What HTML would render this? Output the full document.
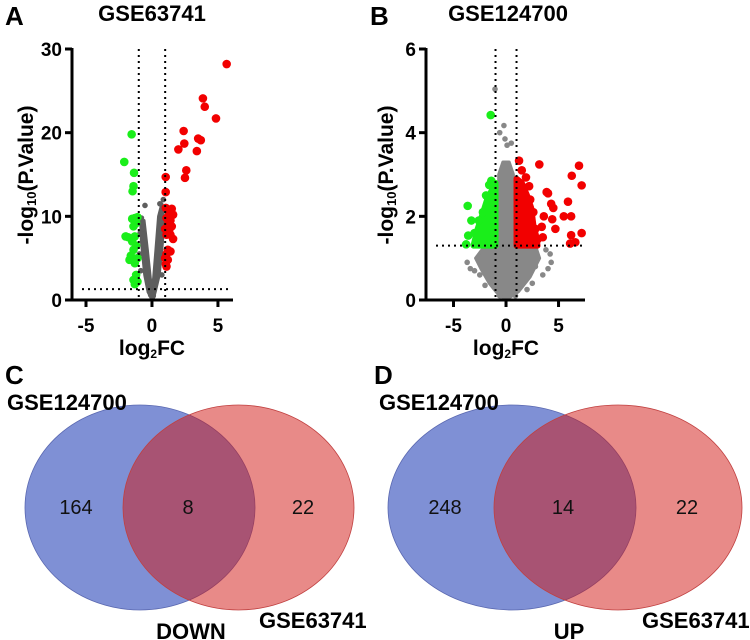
<!DOCTYPE html>
<html><head><meta charset="utf-8"><style>
html,body{margin:0;padding:0;background:#fff;}
svg{display:block;font-family:"Liberation Sans",Arial,sans-serif;}
</style></head><body>
<svg id="fig" width="750" height="640" viewBox="0 0 750 640" xmlns="http://www.w3.org/2000/svg">
<g id="pa"></g>
<g id="pb"></g>
<g id="vc"></g>
<g id="vd"></g>
</svg>
<script>
// ---- Panel A data (log2FC, -log10 p) ----
const aRedX=[5.66,3.86,4.0,4.85,2.4,3.5,3.7,2.45,2.0,3.4,2.6,2.5,1.04,1.04,1.05,1.2,1.5,1.3,1.6,1.1,1.4,1.2,1.5,1.0,1.3,1.6,1.1,1.4,1.2,1.4,1.1,1.0,1.2,1.05,1.1];
const aRedY=[28.2,24.1,23.1,21.7,20.2,19.3,19.1,18.7,18.0,17.8,15.5,14.6,14.7,12.9,11.0,10.8,10.9,10.3,10.2,9.8,9.5,9.0,8.8,8.5,8.3,7.3,7.8,7.8,6.0,5.8,5.5,5.0,4.8,4.3,4.0];
const aGreenX=[-1.54,-2.1,-1.36,-1.4,-1.47,-1.1,-1.3,-1.5,-1.2,-1.4,-2.0,-1.8,-1.3,-1.5,-1.2,-1.4,-1.6,-1.1,-1.7,-1.3,-1.2,-1.4,-1.3,-1.1];
const aGreenY=[19.8,16.5,15.2,13.6,13.0,9.9,9.8,9.7,9.2,8.8,7.6,7.5,7.6,7.0,6.5,6.0,5.3,5.0,4.8,4.4,3.0,2.4,1.9,2.2];
const aGreyHullX=[0,-0.3,-0.55,-0.8,-0.85,-0.6,-0.35,-0.12,0,0.12,0.3,0.5,0.75,0.85,0.8,0.55,0.25,0.08];
const aGreyHullY=[0,1,3,7,9.5,9.5,6,2.5,1.5,2.5,6,10,11.5,10.5,7,3,1,0];
const aGreyX=[-0.53,0.86,0.6,0.7,-0.8,-0.7,-0.9,-0.6,0.9,0.8,0.5,-0.4,-0.5,0.4,0.3,-0.3,-0.95,0.95,-0.85,0.75,0.65,-0.65,0.2,-0.2,0.1,-0.1,0.45,-0.45];
const aGreyY=[11.3,12.0,11.5,10.5,9.8,9.0,8.0,7.5,9.0,8.0,6.5,4.5,6.0,4.0,2.5,2.0,5.5,5.0,3.5,3.0,9.5,8.5,1.5,1.0,0.5,0.6,3.5,3.2];
const aXTicks=[-5,0,5];
const aYTicks=[0,10,20,30];

// ---- Panel B data ----
const bRedX=[6.95,3.17,1.24,6.26,7.2,1.5,1.9,2.2,3.87,4.0,4.3,4.5,5.9,5.5,6.2,3.6,4.4,4.7,6.2,7.2,6.1,6.6,3.4,3.5,2.3,2.6,2.8,3.0,2.0,1.7];
const bRedY=[3.21,3.24,3.33,2.97,2.74,3.1,2.93,2.72,2.58,2.55,2.3,2.2,2.35,2.0,2.0,2.0,1.93,1.7,1.55,1.6,1.35,1.38,1.75,1.5,2.4,2.1,1.7,1.45,2.3,2.6];
const bRedHullX=[1.0,1.0,1.5,2.0,2.4,2.6,2.9,3.0];
const bRedHullY=[1.3,2.9,2.8,2.5,2.2,1.8,1.5,1.3];
const bGreenX=[-1.46,-3.65,-3.8,-3.6,-3.3,-1.4,-1.6,-1.9,-2.6,-2.2,-3.0];
const bGreenY=[4.42,2.25,1.33,1.54,1.9,2.85,2.75,2.5,1.9,2.1,1.6];
const bGreenHullX=[-1.0,-1.0,-1.4,-1.8,-2.3,-2.7,-3.0,-3.1];
const bGreenHullY=[1.3,2.8,2.6,2.4,2.0,1.7,1.4,1.3];
const bGreyHullX=[0,-0.8,-1.6,-2.4,-2.9,-2.3,-1.0,-0.7,-0.7,-0.3,0.3,0.7,0.7,1.0,2.8,3.2,2.3,1.2];
const bGreyHullY=[0,0.15,0.4,0.75,1.0,1.2,1.3,1.3,3.0,3.3,3.3,3.0,1.3,1.3,1.3,1.0,0.55,0.2];
const bGreyX=[-1.05,-0.2,-0.6,0.1,-0.1,0.5,-3.7,-3.0,3.8,4.2,4.3,3.5,4.0,2.5,2.0,-2.0,3.0,-2.5,0.9,-0.6,-3.4,2.8];
const bGreyY=[5.04,4.17,4.0,3.7,3.85,3.75,0.9,0.7,1.2,1.1,0.9,0.6,0.75,0.4,0.25,0.35,1.0,0.6,0.1,0.1,0.75,0.8];
const bXTicks=[-5,0,5];
const bYTicks=[0,2,4,6];

// ---- Venn data ----
const vennLabels=["164","8","22","248","14","22"];

const NS="http://www.w3.org/2000/svg";
function mk(parent,tag,attrs,text){const e=document.createElementNS(NS,tag);for(const k in attrs)e.setAttribute(k,attrs[k]);if(text!==undefined)e.textContent=text;parent.appendChild(e);return e;}

function volcano(g,cfg){
  const sx=v=>cfg.x0+(v-cfg.xmin)/(cfg.xmax-cfg.xmin)*(cfg.x1-cfg.x0);
  const sy=v=>cfg.yb-(v-cfg.ymin)/(cfg.ymax-cfg.ymin)*(cfg.yb-cfg.yt);
  let pts=cfg.ghx.map((v,i)=>sx(v)+","+sy(cfg.ghy[i])).join(" ");
  let p=mk(g,"polygon",{points:pts,fill:cfg.grey,stroke:cfg.grey,"stroke-width":3,"stroke-linejoin":"round"});
  
  
  cfg.gx.forEach((v,i)=>{const c=mk(g,"circle",{cx:sx(v),cy:sy(cfg.gy[i]),r:2.8,fill:cfg.grey});
    
    });
  if(cfg.rhx){
    let p2=mk(g,"polygon",{points:cfg.rhx.map((v,i)=>sx(v)+","+sy(cfg.rhy[i])).join(" "),fill:"#f20000",stroke:"#f20000","stroke-width":6,"stroke-linejoin":"round"});
    
    
    let p3=mk(g,"polygon",{points:cfg.ghx2.map((v,i)=>sx(v)+","+sy(cfg.ghy2[i])).join(" "),fill:"#1aee1a",stroke:"#1aee1a","stroke-width":6,"stroke-linejoin":"round"});
    
    
  }
  cfg.rx.forEach((v,i)=>{const c=mk(g,"circle",{cx:sx(v),cy:sy(cfg.ry[i]),r:4.3,fill:"#f20000"});
    
    });
  cfg.lx.forEach((v,i)=>{const c=mk(g,"circle",{cx:sx(v),cy:sy(cfg.ly[i]),r:4.3,fill:"#1aee1a"});
    
    });
  const dash={stroke:"#000","stroke-width":2,"stroke-dasharray":"2 4",fill:"none"};
  let l=mk(g,"line",Object.assign({x1:sx(-1),x2:sx(-1),y1:cfg.yt,y2:cfg.yb},dash));
  
  
  l=mk(g,"line",Object.assign({x1:sx(1),x2:sx(1),y1:cfg.yt,y2:cfg.yb},dash));
  
  
  l=mk(g,"line",Object.assign({x1:cfg.x0+10,x2:cfg.x1-3,y1:sy(1.3),y2:sy(1.3)},dash));
  
  
  l=mk(g,"line",{x1:cfg.x0,x2:cfg.x0,y1:cfg.yt-1,y2:cfg.yb+1.5,stroke:"#000","stroke-width":3});
  
  
  l=mk(g,"line",{x1:cfg.x0-1.5,x2:cfg.x1,y1:cfg.yb,y2:cfg.yb,stroke:"#000","stroke-width":3});
  
  
  cfg.yt2.forEach(v=>{
    let t=mk(g,"line",{x1:cfg.x0-7,x2:cfg.x0,y1:sy(v),y2:sy(v),stroke:"#000","stroke-width":3});
    
    
    let tx=mk(g,"text",{x:cfg.x0-10,y:sy(v)+7,"text-anchor":"end","font-size":19,"font-weight":"bold"},String(v));
    
    
  });
  cfg.xt.forEach(v=>{
    let t=mk(g,"line",{x1:sx(v),x2:sx(v),y1:cfg.yb,y2:cfg.yb+7,stroke:"#000","stroke-width":3});
    
    
    let tx=mk(g,"text",{x:sx(v),y:cfg.yb+32,"text-anchor":"middle","font-size":19,"font-weight":"bold"},String(v));
    
    
  });
}

volcano(document.getElementById("pa"),{x0:72,x1:233,xmin:-6.06,xmax:6.14,yb:300,yt:49,ymin:0,ymax:30,
  grey:"#5e5e5e",ghx:aGreyHullX,ghy:aGreyHullY,gx:aGreyX,gy:aGreyY,rx:aRedX,ry:aRedY,lx:aGreenX,ly:aGreenY,xt:aXTicks,yt2:aYTicks});
volcano(document.getElementById("pb"),{x0:426,x1:585,xmin:-7.62,xmax:7.52,yb:300,yt:49,ymin:0,ymax:6,
  grey:"#888888",ghx:bGreyHullX,ghy:bGreyHullY,gx:bGreyX,gy:bGreyY,rx:bRedX,ry:bRedY,lx:bGreenX,ly:bGreenY,
  rhx:bRedHullX,rhy:bRedHullY,ghx2:bGreenHullX,ghy2:bGreenHullY,xt:bXTicks,yt2:bYTicks});

function venn(g,cfg,labs){
  let e=mk(g,"ellipse",{cx:cfg.bx,cy:507.5,rx:cfg.brx,ry:102.5,fill:"#7f90d5",stroke:"#5a68b0","stroke-width":0.8});
  
  
  e=mk(g,"ellipse",{cx:cfg.rx,cy:507.5,rx:cfg.rrx,ry:102.5,fill:"rgba(209,21,17,0.5)",stroke:"#c04040","stroke-width":0.8});
  
  
  const xs=[cfg.n1,cfg.n2,cfg.n3];
  labs.forEach((s,i)=>{let t=mk(g,"text",{x:xs[i],y:514,"text-anchor":"middle","font-size":20,fill:"#111"},s);
    
    });
}
venn(document.getElementById("vc"),{bx:140,brx:115,rx:238.5,rrx:115.5,n1:76,n2:188,n3:303},vennLabels.slice(0,3));
venn(document.getElementById("vd"),{bx:512,brx:124,rx:618,rrx:124,n1:445,n2:563,n3:687},vennLabels.slice(3,6));
</script>
<div style="position:absolute;left:0;top:0;width:750px;height:640px;pointer-events:none">
<svg width="750" height="640" style="position:absolute;left:0;top:0;font-family:'Liberation Sans',Arial,sans-serif;font-weight:bold">
<text x="5" y="25" font-size="26">A</text>
<text x="152" y="21" font-size="22" text-anchor="middle">GSE63741</text>
<text transform="translate(33,175) rotate(-90)" font-size="21" text-anchor="middle">-log<tspan font-size="13" dy="3">10</tspan><tspan dy="-3">(P.Value)</tspan></text>
<text x="152" y="355" font-size="21" text-anchor="middle">log<tspan font-size="12" dy="3">2</tspan><tspan dy="-3">FC</tspan></text>
<text x="370" y="25" font-size="26">B</text>
<text x="508" y="21" font-size="22" text-anchor="middle">GSE124700</text>
<text transform="translate(393,175) rotate(-90)" font-size="21" text-anchor="middle">-log<tspan font-size="13" dy="3">10</tspan><tspan dy="-3">(P.Value)</tspan></text>
<text x="506" y="355" font-size="21" text-anchor="middle">log<tspan font-size="12" dy="3">2</tspan><tspan dy="-3">FC</tspan></text>
<text x="5" y="384" font-size="26">C</text>
<text x="7" y="410" font-size="22">GSE124700</text>
<text x="191" y="639" font-size="22" text-anchor="middle">DOWN</text>
<text x="259" y="628" font-size="22">GSE63741</text>
<text x="374" y="384" font-size="26">D</text>
<text x="379" y="410" font-size="22">GSE124700</text>
<text x="569" y="639" font-size="22" text-anchor="middle">UP</text>
<text x="642" y="628" font-size="22">GSE63741</text>
</svg></div>
</body></html>
